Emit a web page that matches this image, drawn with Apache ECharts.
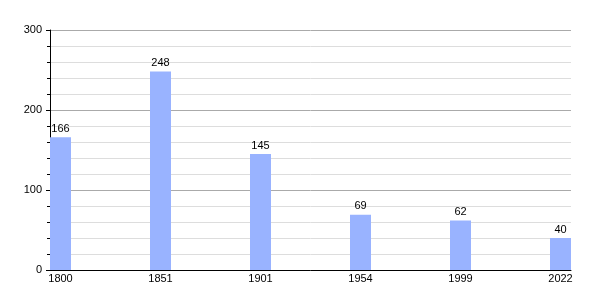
<!DOCTYPE html>
<html>
<head>
<meta charset="utf-8">
<script src="https://cdn.jsdelivr.net/npm/echarts@6/dist/echarts.min.js"></script>
<style>html,body{margin:0;padding:0;background:#fff}#c{width:600px;height:300px}</style>
</head>
<body>
<div id="c"></div>
<script>
var categories = ['1800', '1851', '1901', '1954', '1999', '2022'];
var values = [166, 248, 145, 69, 62, 40];
var yTicks = [0, 100, 200, 300];

var chart = echarts.init(document.getElementById('c'), null, {renderer: 'canvas'});
var idx = categories.map(function (c, i) { return i; });
chart.setOption({
  animation: false,
  backgroundColor: '#fff',
  textStyle: {fontFamily: 'Liberation Sans, Arial, sans-serif'},
  grid: {left: 50, right: 29, top: 30, bottom: 30, containLabel: false},
  xAxis: {
    type: 'value',
    min: -0.105,
    max: 5.105,
    splitLine: {show: false},
    axisLine: {show: true, onZero: false, lineStyle: {color: '#000', width: 1}},
    axisTick: {show: false},
    axisLabel: {
      customValues: idx,
      color: '#000',
      fontSize: 11,
      margin: 3,
      formatter: function (v) { return categories[Math.round(v)]; }
    }
  },
  yAxis: {
    type: 'value',
    min: yTicks[0],
    max: yTicks[yTicks.length - 1],
    interval: 100,
    axisLine: {show: true, onZero: false, lineStyle: {color: '#000', width: 1}},
    axisTick: {show: true, length: 4, lineStyle: {color: '#000'}},
    minorTick: {show: true, splitNumber: 5, length: 3, lineStyle: {color: '#000'}},
    splitLine: {show: true, lineStyle: {color: '#aaaaaa', width: 1}},
    minorSplitLine: {show: true, lineStyle: {color: '#dddddd', width: 1}},
    axisLabel: {color: '#000', fontSize: 11, margin: 8}
  },
  series: [{
    type: 'bar',
    data: values.map(function (v, i) { return [i, v]; }),
    barWidth: 21,
    itemStyle: {color: '#99b3ff'},
    label: {show: true, position: 'top', color: '#000', fontSize: 11, distance: 3}
  }]
});
</script>
</body>
</html>
